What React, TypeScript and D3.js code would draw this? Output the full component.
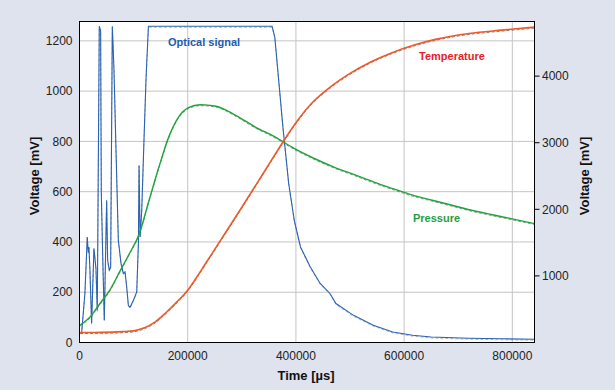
import * as d3 from "d3";

// time in µs, values in mV
const opticalTime = [
  3840, 10000, 14330, 16180, 17420, 19280, 22370, 26690, 30400, 32870, 36570, 39050,
  40280, 42760, 45840, 50170, 52020, 55110, 57580, 60670, 63760, 67470, 71790, 76740,
  81060, 84150, 87240, 90330, 93420, 99600, 105780, 108870, 110100, 111960, 115050,
  119370, 123080, 127400, 356000, 361000, 376000, 386700, 397000, 408500, 426700,
  444900, 463000, 474000, 506600, 543000, 579000, 615800, 650000, 720000, 780000, 841000,
];
const opticalValue = [
  36, 196, 420, 360, 380, 290, 77, 375, 295, 128, 1258, 1240, 600, 355, 89, 566, 327,
  288, 300, 1258, 1083, 765, 407, 315, 275, 281, 221, 148, 140, 168, 201, 394, 705, 420,
  526, 818, 1056, 1258, 1258, 1215, 857, 632, 486, 380, 300, 235, 195, 155, 108, 69, 42,
  29, 22, 17, 15, 13,
];

const pressureTime = [
  1000, 19600, 37800, 56000, 74100, 92300, 110500, 128600, 146800, 165000, 183100,
  201300, 223200, 252300, 288600, 325000, 361300, 397600, 434000, 470300, 506600,
  543000, 579400, 615800, 652100, 688500, 724800, 761100, 797500, 841000,
];
const pressureValue = [
  69, 102, 155, 208, 281, 354, 433, 566, 698, 818, 897, 934, 946, 940, 904, 857, 818,
  771, 732, 698, 669, 639, 612, 586, 566, 546, 526, 509, 493, 473,
];

const temperatureTime = [
  1000, 40000, 80000, 100000, 120000, 140000, 160000, 180000, 200000, 215000, 230000,
  260000, 300000, 340000, 377600, 400000, 430000, 461000, 500000, 540000, 575400,
  620000, 660000, 720000, 780000, 841000,
];
const temperatureValue = [
  150, 152, 163, 175, 220, 310, 450, 610, 785, 960, 1148, 1525, 2030, 2545, 3030, 3300,
  3600, 3820, 4040, 4220, 4345, 4470, 4555, 4640, 4690, 4735,
];

const xTicks = [0, 200000, 400000, 600000, 800000];
const leftTicks = [0, 200, 400, 600, 800, 1000, 1200];
const rightTicks = [1000, 2000, 3000, 4000];

const W = 615;
const H = 390;
const m = { left: 79.5, right: 534.5, top: 21.5, bottom: 342.5 };
const font = "'Liberation Sans', Arial, sans-serif";

export default function App() {
  const x = d3.scaleLinear().domain([0, 841000]).range([m.left, m.right]);
  const yL = d3.scaleLinear().domain([0, 1277]).range([m.bottom, m.top]);
  const yR = d3.scaleLinear().domain([0, 4820]).range([m.bottom, m.top]);

  const optical =
    d3
      .line<number>()
      .x((_, i) => x(opticalTime[i]))
      .y((v) => yL(v))(opticalValue) ?? "";
  const pressure =
    d3
      .line<number>()
      .x((_, i) => x(pressureTime[i]))
      .y((v) => yL(v))
      .curve(d3.curveMonotoneX)(pressureValue) ?? "";
  const temperature =
    d3
      .line<number>()
      .x((_, i) => x(temperatureTime[i]))
      .y((v) => yR(v))
      .curve(d3.curveMonotoneX)(temperatureValue) ?? "";

  return (
    <svg
      width={W}
      height={H}
      style={{ position: "fixed", left: 0, top: 0, fontFamily: font }}
    >
      <rect width={W} height={H} fill="#dfe3ee" />
      <rect
        x={m.left}
        y={m.top}
        width={m.right - m.left}
        height={m.bottom - m.top}
        fill="#fff"
      />
      {/* grid */}
      {leftTicks.slice(1).map((t) => (
        <line key={"h" + t} x1={m.left} x2={m.right} y1={yL(t)} y2={yL(t)} stroke="#c4c4c4" />
      ))}
      {xTicks.slice(1).map((t) => (
        <line key={"v" + t} x1={x(t)} x2={x(t)} y1={m.top} y2={m.bottom} stroke="#c4c4c4" />
      ))}

      <defs>
        <clipPath id="plot">
          <rect x={m.left} y={m.top} width={m.right - m.left} height={m.bottom - m.top} />
        </clipPath>
      </defs>
      <g clipPath="url(#plot)" fill="none">
        <path d={temperature} stroke="#333" strokeWidth={1} strokeDasharray="3,2" transform="translate(0,1)" opacity={0.6} />
        <path d={pressure} stroke="#333" strokeWidth={1} strokeDasharray="3,2" transform="translate(0,1)" opacity={0.5} />
        <path d={optical} stroke="#333" strokeWidth={1} strokeDasharray="3,2" transform="translate(0,1)" opacity={0.35} />
        <path d={optical} stroke="#2a62b4" strokeWidth={1.1} />
        <path d={pressure} stroke="#1fa33c" strokeWidth={1.4} />
        <path d={temperature} stroke="#f05a28" strokeWidth={1.6} />
      </g>

      {/* frame */}
      <rect
        x={m.left}
        y={m.top}
        width={m.right - m.left}
        height={m.bottom - m.top}
        fill="none"
        stroke="#000"
      />

      {/* left axis */}
      {leftTicks.map((t) => (
        <text key={"l" + t} x={72.5} y={yL(t)} dy="0.35em" textAnchor="end" fontSize={12} fill="#222">
          {t}
        </text>
      ))}
      {/* right axis */}
      {rightTicks.map((t) => (
        <g key={"r" + t}>
          <line x1={m.right} x2={m.right + 5} y1={yR(t)} y2={yR(t)} stroke="#000" />
          <text x={542} y={yR(t)} dy="0.35em" fontSize={12} fill="#222">
            {t}
          </text>
        </g>
      ))}
      {/* bottom axis */}
      {xTicks.map((t) => (
        <text key={"b" + t} x={x(t)} y={360} textAnchor="middle" fontSize={12} fill="#222">
          {t}
        </text>
      ))}

      <text x={306} y={380} textAnchor="middle" fontSize={13} fontWeight="bold" fill="#111">
        Time [µs]
      </text>
      <text
        transform="translate(39,176) rotate(-90)"
        textAnchor="middle"
        fontSize={13}
        fontWeight="bold"
        fill="#111"
      >
        Voltage [mV]
      </text>
      <text
        transform="translate(589,176) rotate(-90)"
        textAnchor="middle"
        fontSize={13}
        fontWeight="bold"
        fill="#111"
      >
        Voltage [mV]
      </text>

      <text x={168} y={46} fontSize={11} fontWeight="bold" fill="#1f5cb0">
        Optical signal
      </text>
      <text x={419} y={60} fontSize={11} fontWeight="bold" fill="#e8202a">
        Temperature
      </text>
      <text x={413} y={222} fontSize={11} fontWeight="bold" fill="#1fa03c">
        Pressure
      </text>
    </svg>
  );
}
